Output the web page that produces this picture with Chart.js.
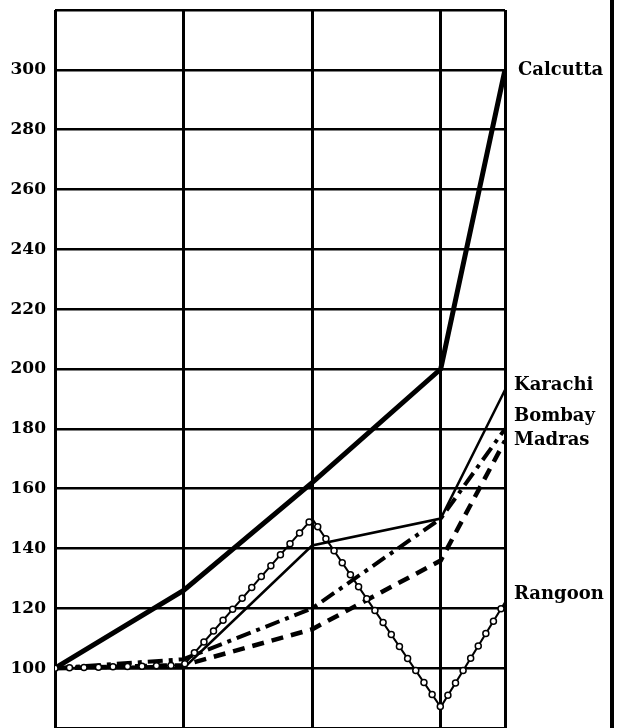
<!DOCTYPE html>
<html>
<head>
<meta charset="utf-8">
<script src="https://cdn.jsdelivr.net/npm/chart.js@4.4.1/dist/chart.umd.min.js"></script>
<style>
  body { margin: 0; background: #fff; }
  canvas { display: block; }
</style>
</head>
<body>
<canvas id="indexChart" width="617" height="728"></canvas>
<script>
// data
const periods = [0, 1, 2, 3, 3.5];
const yTicks = [80, 100, 120, 140, 160, 180, 200, 220, 240, 260, 280, 300, 320];
const cityNames = ['Calcutta', 'Karachi', 'Bombay', 'Madras', 'Rangoon'];
const calcutta = [100, 126, 162, 200, 300];
const karachi = [100, 100, 141, 150, 193];
const bombay = [100, 103, 120, 150, 180];
const madras = [100, 101, 113, 136, 176];
const rangoon = [100, 101, 150, 87, 122];

const serif = "'DejaVu Serif', 'Liberation Serif', serif";

function toXY(vals) {
    return vals.map((v, i) => ({ x: periods[i], y: v }));
}

// circles along the Rangoon line, names at the right
const extras = {
    id: 'extras',
    afterDatasetsDraw(chart) {
        const ctx = chart.ctx;
        const area = chart.chartArea;
        const pts = chart.getDatasetMeta(4).data;
        ctx.save();
        ctx.beginPath();
        ctx.rect(area.left, area.top, area.right - area.left, area.bottom - area.top);
        ctx.clip();
        const gap = 14.5;
        let carry = 0;
        for (let i = 0; i < pts.length - 1; i++) {
            const a = pts[i], b = pts[i + 1];
            const len = Math.hypot(b.x - a.x, b.y - a.y);
            let d = carry;
            while (d <= len) {
                const t = d / len;
                ctx.beginPath();
                ctx.arc(a.x + (b.x - a.x) * t, a.y + (b.y - a.y) * t, 3, 0, Math.PI * 2);
                ctx.fillStyle = '#fff';
                ctx.fill();
                ctx.lineWidth = 1.5;
                ctx.strokeStyle = '#000';
                ctx.stroke();
                d += gap;
            }
            carry = d - len;
        }
        ctx.restore();

        // series names
        const y = chart.scales.y;
        const ends = [calcutta, karachi, bombay, madras, rangoon].map(s => s[s.length - 1]);
        const shift = [0, -5, -13, 0, -8];
        ctx.save();
        ctx.fillStyle = '#000';
        ctx.font = 'bold 18px ' + serif;
        ctx.textBaseline = 'middle';
        cityNames.forEach((n, i) => {
            ctx.fillText(n, i === 0 ? 518 : 514, y.getPixelForValue(ends[i]) + shift[i]);
        });
        // outer frame line on the right
        ctx.lineWidth = 4;
        ctx.beginPath();
        ctx.moveTo(612, 0);
        ctx.lineTo(612, chart.height);
        ctx.stroke();
        ctx.restore();
    }
};

new Chart(document.getElementById('indexChart'), {
    type: 'line',
    data: {
        datasets: [
            { label: cityNames[0], data: toXY(calcutta), borderWidth: 5 },
            { label: cityNames[1], data: toXY(karachi), borderWidth: 2.5 },
            { label: cityNames[2], data: toXY(bombay), borderWidth: 4, borderDash: [15, 6, 4, 6] },
            { label: cityNames[3], data: toXY(madras), borderWidth: 4.5, borderDash: [12, 8] },
            { label: cityNames[4], data: toXY(rangoon), borderWidth: 2 }
        ]
    },
    options: {
        responsive: false,
        animation: false,
        elements: {
            line: { borderColor: '#000', tension: 0, borderCapStyle: 'butt' },
            point: { radius: 0 }
        },
        layout: { padding: { top: 10, right: 112, left: 0, bottom: 0 } },
        plugins: { legend: { display: false }, tooltip: { enabled: false } },
        scales: {
            x: {
                type: 'linear',
                min: 0,
                max: 3.5,
                afterBuildTicks: s => { s.ticks = periods.map(v => ({ value: v })); },
                afterFit: s => { s.height = 0; s.paddingLeft = 0; s.paddingRight = 0; },
                ticks: { display: false },
                border: { display: false },
                grid: { color: '#000', lineWidth: 3, drawTicks: false }
            },
            y: {
                min: 80,
                max: 320,
                afterBuildTicks: s => { s.ticks = yTicks.map(v => ({ value: v })); },
                afterFit: s => { s.width = 55; s.paddingTop = 0; s.paddingBottom = 0; },
                border: { display: false },
                grid: { color: '#000', lineWidth: 2.5, drawTicks: false },
                ticks: {
                    padding: 9,
                    color: '#000',
                    font: { family: serif, size: 17, weight: 'bold' },
                    callback: v => (v >= 100 && v <= 300) ? v : ''
                }
            }
        }
    },
    plugins: [extras]
});
</script>
</body>
</html>
